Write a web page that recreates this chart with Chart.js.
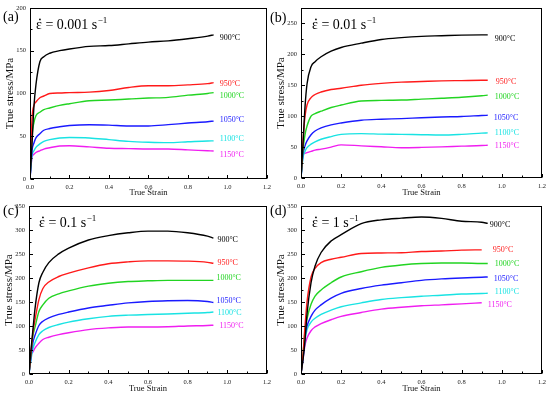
<!DOCTYPE html>
<html>
<head>
<meta charset="utf-8">
<script src="https://cdn.jsdelivr.net/npm/chart.js@4.4.1/dist/chart.umd.min.js"></script>
<style>
  html, body { margin: 0; padding: 0; background: #fff; }
  body { width: 550px; height: 397px; position: relative; overflow: hidden; }
  canvas { position: absolute; }
</style>
</head>
<body>
<canvas id="chartA" width="275" height="198" style="left:0;top:0"></canvas>
<canvas id="chartB" width="284" height="198" style="left:266px;top:0"></canvas>
<canvas id="chartC" width="275" height="199" style="left:0;top:198px"></canvas>
<canvas id="chartD" width="284" height="199" style="left:266px;top:198px"></canvas>
<script>
// temperatures and strain points shared by all panels
const temps = ["900°C", "950°C", "1000°C", "1050°C", "1100°C", "1150°C"];
const strain = [0, 0.01, 0.02, 0.03, 0.05, 0.07, 0.1, 0.15, 0.2, 0.3, 0.4, 0.5, 0.6, 0.7, 0.8, 0.9, 0.93];
const xTicks = [0, 0.2, 0.4, 0.6, 0.8, 1.0, 1.2];
const yTicksA = [0, 50, 100, 150, 200];
const yTicksB = [0, 50, 100, 150, 200, 250];
const yTicksCD = [0, 50, 100, 150, 200, 250, 300, 350];

// (a) 0.001 s-1
const a900  = [0, 40, 85, 110, 137, 143, 147, 150, 152, 155, 156, 158, 160, 161.5, 164, 167, 168.5];
const a950  = [0, 70, 86, 90, 95, 97, 100, 100.5, 101, 101.5, 103.5, 107, 109, 109, 110, 111.5, 112.7];
const a1000 = [0, 50, 66, 74, 78, 81, 83, 86, 88, 91.5, 92.3, 93.5, 94.6, 95.4, 98, 100, 101];
const a1050 = [0, 33, 42, 48, 53, 57, 59, 61, 62.5, 63.5, 63, 62, 62, 63.5, 65.4, 67, 67.7];
const a1100 = [0, 27, 33, 37, 41, 44, 46, 48, 48.5, 48, 46, 44, 43, 42.5, 43.5, 44.5, 44.6];
const a1150 = [0, 25, 29, 31, 33, 35, 36.5, 38.5, 38.8, 37.5, 36, 35.5, 35, 35, 34, 33, 32.7];

// (b) 0.01 s-1
const b900  = [0, 55, 115, 152, 180, 188, 196, 205, 211, 218, 224, 227, 229, 230, 231, 231.4, 231.4];
const b950  = [0, 60, 100, 118, 130, 135, 139, 143, 145, 150, 153, 155, 156, 157, 157.5, 158, 158];
const b1000 = [0, 45, 70, 84, 100, 104, 108, 114, 118, 124.5, 125.5, 126, 127.5, 129, 130.6, 133, 134];
const b1050 = [0, 38, 52, 60, 70, 76, 81, 86, 89, 93.4, 95, 96, 97.5, 98.7, 99.5, 101, 101.4];
const b1100 = [0, 33, 43, 49, 54.7, 58.5, 62.6, 67, 70.6, 71.7, 71, 70.6, 70, 69.5, 70.6, 72.5, 73];
const b1150 = [0, 38, 40, 41, 43, 45, 46.7, 50, 53.6, 52, 50.5, 49, 49.5, 50.4, 51.5, 52.5, 53];

// (c) 0.1 s-1
const c900  = [0, 50, 93, 135, 190, 212, 232, 250, 262, 279, 288, 294, 297.5, 297.5, 294, 287, 283];
const c950  = [0, 45, 87, 112, 155, 178, 191.6, 203, 210, 221, 229.5, 233.5, 235.6, 235.6, 235, 232.5, 230.5];
const c1000 = [0, 42, 80, 97, 130, 144, 157.8, 167, 173, 183, 189, 192.5, 194, 195, 195, 195, 195];
const c1050 = [0, 35, 66, 80, 101, 110, 117, 124, 129, 137.5, 143, 148, 151, 152.5, 153, 151, 149];
const c1100 = [0, 30, 53, 65, 82, 90, 96.8, 103, 108, 115, 120, 122.5, 124, 125, 126.5, 128, 129];
const c1150 = [0, 39, 46, 54, 64, 71.8, 76.5, 82, 86, 92.5, 96, 98, 98, 98.5, 100, 101, 101.6];

// (d) 1 s-1
const d900  = [0, 30, 70, 125, 190, 225, 253, 277, 290, 313, 321, 324.5, 327, 324, 318, 316, 313.5];
const d950  = [0, 40, 100, 150, 202, 220, 232, 239, 243, 251, 252, 252.5, 255, 256, 258, 258.5, null];
const d1000 = [0, 40, 90, 115, 145, 162, 175, 190, 202, 213, 222, 227, 230, 231, 231, 230, 230];
const d1050 = [0, 35, 80, 100, 120, 133, 144, 158, 168, 178, 185, 190, 195, 198, 200, 201.5, 202];
const d1100 = [0, 32, 70, 92, 108, 116, 124, 133, 140, 148, 155, 159, 162, 164, 166.5, 167.5, 168];
const d1150 = [0, 30, 60, 75, 90, 98, 105, 113, 120, 128, 135, 139, 142, 144, 146, 148.5, null];

const lineColors = ["#000000", "#ff1a1a", "#22d422", "#1a1aff", "#19e3e3", "#f01ef0"];
const serif = "'Liberation Serif', 'Times New Roman', serif";

const panels = [
    { id: "chartA", letter: "(a)", rate: "0.001", series: [a900, a950, a1000, a1050, a1100, a1150],
      yMax: 200, yTicks: yTicksA, pad: { left: 4, right: 7, top: 6, bottom: 0 }, yW: 26, xH: 19,
      letterPos: [3, 21], rateX: 6, labelDx: [6, 6, 6, 6, 6, 6], labelDy: [3, 1, 3, -1, -2, 4] },
    { id: "chartB", letter: "(b)", rate: "0.01", series: [b900, b950, b1000, b1050, b1100, b1150],
      yMax: 275, yTicks: yTicksB, pad: { left: 9, right: 6, top: 5, bottom: 0 }, yW: 26, xH: 20,
      letterPos: [4, 22], rateX: 11, labelDx: [7, 8, 7, 6, 7, 7], labelDy: [4, 1.5, 2, 3, 0.5, 0.5] },
    { id: "chartC", letter: "(c)", rate: "0.1", series: [c900, c950, c1000, c1050, c1100, c1150],
      yMax: 350, yTicks: yTicksCD, pad: { left: 3, right: 6, top: 4, bottom: 3 }, yW: 26, xH: 20,
      letterPos: [3, 17], rateX: 10, labelDx: [4, 4, 3, 3, 4, 6], labelDy: [2, 0, -2, -1.5, 1, 1] },
    { id: "chartD", letter: "(d)", rate: "1", series: [d900, d950, d1000, d1050, d1100, d1150],
      yMax: 350, yTicks: yTicksCD, pad: { left: 9, right: 6, top: 4, bottom: 3 }, yW: 26, xH: 20,
      letterPos: [4, 17], rateX: 11, labelDx: [2, 11, 7, 6, 7, 6], labelDy: [1, 0, 0, 2, -1.5, 2.5] }
];

// frame, inward ticks, curve labels and panel texts
const decorPlugin = {
    id: "decor",
    afterDatasetsDraw(chart, args, opts) {
        const p = opts.panel;
        const { ctx, chartArea: ca } = chart;
        const x = chart.scales.x, y = chart.scales.y;
        ctx.save();

        // temperature labels at the end of each curve
        ctx.font = "8px " + serif;
        ctx.textAlign = "left";
        ctx.textBaseline = "middle";
        chart.data.datasets.forEach((ds, i) => {
            const pts = chart.getDatasetMeta(i).data.filter(pt => !pt.skip);
            const last = pts[pts.length - 1];
            ctx.fillStyle = ds.borderColor;
            ctx.fillText(temps[i], last.x + p.labelDx[i], last.y + p.labelDy[i]);
        });

        // frame
        ctx.strokeStyle = "#000";
        ctx.lineWidth = 1;
        const l = Math.round(ca.left) + 0.5, t = Math.round(ca.top) + 0.5;
        const r = Math.round(ca.right) - 0.5, b = Math.round(ca.bottom) - 0.5;
        ctx.strokeRect(l, t, r - l, b - t);

        // inward ticks
        ctx.beginPath();
        for (let k = 0; k <= 12; k++) {
            const px = Math.round(x.getPixelForValue(k / 10)) + 0.5;
            const len = k % 2 === 0 ? 3.5 : 2;
            ctx.moveTo(px, b);
            ctx.lineTo(px, b - len);
        }
        for (let v = 0; v <= p.yMax; v += 25) {
            const py = Math.round(y.getPixelForValue(v)) + 0.5;
            const len = v % 50 === 0 ? 3.5 : 2;
            ctx.moveTo(l, py);
            ctx.lineTo(l + len, py);
        }
        ctx.stroke();

        // strain rate
        ctx.fillStyle = "#000";
        ctx.textBaseline = "alphabetic";
        ctx.font = "14px " + serif;
        const rx = ca.left + p.rateX, ry = ca.top + 21;
        ctx.fillText("ε", rx, ry);
        const ew = ctx.measureText("ε").width;
        ctx.beginPath();
        ctx.arc(rx + ew / 2 + 1, ry - 9.5, 0.9, 0, Math.PI * 2);
        ctx.fill();
        const main = " = " + p.rate + " s";
        ctx.fillText(main, rx + ew, ry);
        const mw = ctx.measureText(main).width;
        ctx.font = "9px " + serif;
        ctx.fillText("\u22121", rx + ew + mw + 0.5, ry - 6);

        // panel letter
        ctx.font = "14px " + serif;
        ctx.fillText(p.letter, p.letterPos[0], p.letterPos[1]);
        ctx.restore();
    }
};

panels.forEach(p => {
    new Chart(document.getElementById(p.id), {
        type: "line",
        data: {
            datasets: p.series.map((s, i) => ({
                label: temps[i],
                data: strain.map((e, j) => ({ x: e, y: s[j] })),
                borderColor: lineColors[i],
                borderWidth: 1.4,
                pointRadius: 0,
                cubicInterpolationMode: "monotone",
                fill: false
            }))
        },
        options: {
            responsive: false,
            animation: false,
            events: [],
            layout: { autoPadding: false, padding: p.pad },
            plugins: {
                legend: { display: false },
                tooltip: { enabled: false },
                decor: { panel: p }
            },
            scales: {
                x: {
                    type: "linear",
                    min: 0,
                    max: 1.2,
                    grid: { display: false, drawTicks: false },
                    border: { display: false },
                    afterBuildTicks: s => { s.ticks = xTicks.map(v => ({ value: v })); },
                    afterFit: s => { s.height = p.xH; },
                    ticks: {
                        autoSkip: false,
                        maxRotation: 0,
                        padding: 4,
                        color: "#222",
                        font: { family: serif, size: 6.5 },
                        callback: v => v.toFixed(1)
                    },
                    title: {
                        display: true,
                        text: "True Strain",
                        color: "#111",
                        padding: 0,
                        font: { family: serif, size: 8.5 }
                    }
                },
                y: {
                    type: "linear",
                    min: 0,
                    max: p.yMax,
                    grid: { display: false, drawTicks: false },
                    border: { display: false },
                    afterBuildTicks: s => { s.ticks = p.yTicks.map(v => ({ value: v })); },
                    afterFit: s => { s.width = p.yW; },
                    ticks: {
                        padding: 4,
                        color: "#222",
                        font: { family: serif, size: 6.5 }
                    },
                    title: {
                        display: true,
                        text: "True stress/MPa",
                        color: "#111",
                        padding: 0,
                        font: { family: serif, size: 11 }
                    }
                }
            }
        },
        plugins: [decorPlugin]
    });
});
</script>
</body>
</html>
